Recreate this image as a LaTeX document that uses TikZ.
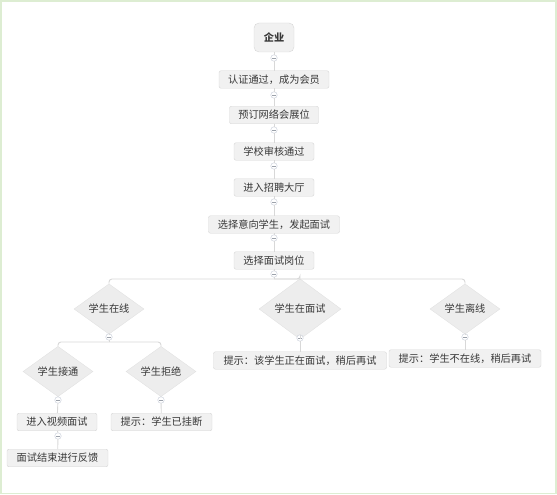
\documentclass[tikz,border=0pt]{standalone}
\usepackage{fontspec}
\usepackage{xcolor}
\setmainfont{Noto Sans CJK SC}
\usetikzlibrary{positioning,shapes.geometric,calc}
\definecolor{boxfill}{HTML}{F1F1F1}
\definecolor{boxline}{HTML}{D6D6D6}
\definecolor{diafill}{HTML}{EDEDED}
\definecolor{dialine}{HTML}{E2E2E2}
\definecolor{linkgray}{HTML}{D8D8D8}
\definecolor{foldline}{HTML}{C3CAD6}
\definecolor{txtgray}{HTML}{383838}
\definecolor{framegreen}{HTML}{DDEDD2}

\begin{document}
\begin{tikzpicture}[x=1pt, y=-1pt,
  procbox/.style={draw=boxline, fill=boxfill, rounded corners=2pt, text=txtgray,
    font=\fontsize{10.2}{12}\selectfont, inner xsep=0pt, inner ysep=0pt, minimum height=17.5pt},
  decide/.style={diamond, fill=diafill, draw=dialine, text=txtgray,
    font=\fontsize{10.2}{12}\selectfont, inner sep=0pt, minimum width=70pt, minimum height=44pt},
  fold/.style={circle, draw=foldline, fill=white, inner sep=0pt, minimum size=6.5pt,
    path picture={\draw[foldline!80!black, line width=0.5pt]
      ($(path picture bounding box.center)+(-1.6,0)$) -- ++(3.2,0);}},
  link/.style={draw=linkgray, line width=0.9pt, rounded corners=3pt}]
\useasboundingbox (0,0) rectangle (557,495);
\draw[framegreen, line width=1.5pt] (1,1) rectangle (556,493.5);

% main column
\node[procbox, rounded corners=5pt, minimum width=40pt, minimum height=29pt, font=\fontsize{10.2}{12}\selectfont\bfseries] (ent) at (274,37.5) {企业};
\node[procbox, minimum width=110pt] (auth) at (274,79.5) {认证通过，成为会员};
\node[procbox, minimum width=89pt] (book) at (274,115) {预订网络会展位};
\node[procbox, minimum width=80pt] (check) at (274,151.5) {学校审核通过};
\node[procbox, minimum width=80pt] (hall) at (274,187.5) {进入招聘大厅};
\node[procbox, minimum width=131pt] (invite) at (274,224.5) {选择意向学生，发起面试};
\node[procbox, minimum width=80pt] (post) at (274,260.5) {选择面试岗位};

% decisions
\node[decide] (online) at (109,309) {学生在线};
\node[decide, minimum width=82pt] (busy) at (300,309) {学生在面试};
\node[decide] (offline) at (465,309) {学生离线};
\node[decide, minimum height=43pt] (accept) at (58,371.5) {学生接通};
\node[decide, minimum height=43pt] (reject) at (161,371.5) {学生拒绝};

% results
\node[procbox, minimum width=173pt] (busytip) at (300,360.5) {提示：该学生正在面试，稍后再试};
\node[procbox, minimum width=152pt] (offtip) at (465,358.5) {提示：学生不在线，稍后再试};
\node[procbox, minimum width=80pt] (video) at (57,422) {进入视频面试};
\node[procbox, minimum width=101pt] (hungup) at (161.5,422) {提示：学生已挂断};
\node[procbox, minimum width=101pt] (feedback) at (57.5,458) {面试结束进行反馈};

% fold marks
\node[fold] (f1) at (274,58) {};
\node[fold] (f2) at (274,95) {};
\node[fold] (f3) at (274,130) {};
\node[fold] (f4) at (274,166) {};
\node[fold] (f5) at (274,202) {};
\node[fold] (f6) at (274,238) {};
\node[fold] (f7) at (274,274) {};
\node[fold] (f8) at (109,337) {};
\node[fold] (f9) at (300,338) {};
\node[fold] (f10) at (465,337) {};
\node[fold] (f11) at (58,400) {};
\node[fold] (f12) at (161,400) {};
\node[fold] (f13) at (58,436) {};

\coordinate (br1) at (274,279);
\coordinate (br2) at (109,342);

% connectors
\draw[link] (ent) -- (f1) -- (auth);
\draw[link] (auth) -- (f2) -- (book);
\draw[link] (book) -- (f3) -- (check);
\draw[link] (check) -- (f4) -- (hall);
\draw[link] (hall) -- (f5) -- (invite);
\draw[link] (invite) -- (f6) -- (post);
\draw[link] (post) -- (f7) -- (br1);
\draw[link] (br1) -| (online.north);
\draw[link] (br1) -| (busy.north);
\draw[link] (br1) -| (offline.north);
\draw[link] (online) -- (f8) -- (br2);
\draw[link] (br2) -| (accept.north);
\draw[link] (br2) -| (reject.north);
\draw[link] (busy) -- (f9) -- (busytip);
\draw[link] (offline) -- (f10) -- (offtip);
\draw[link] (accept) -- (f11) -- (video);
\draw[link] (reject) -- (f12) -- (hungup);
\draw[link] (video) -- (f13) -- (feedback);

\end{tikzpicture}
\end{document}
